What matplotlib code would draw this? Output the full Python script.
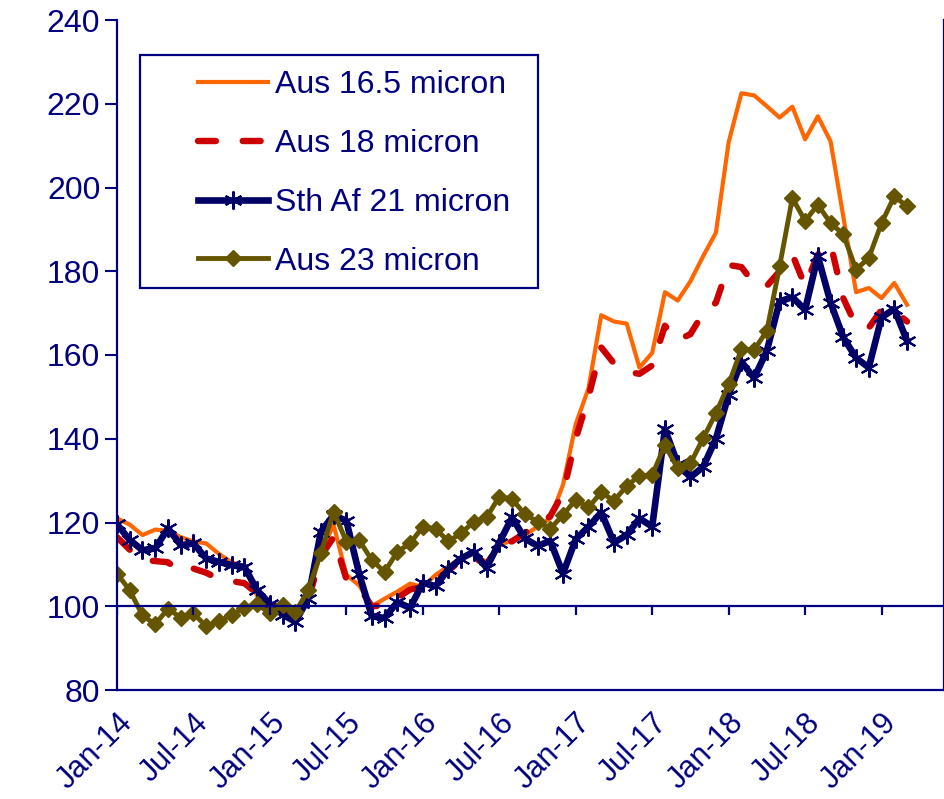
import pandas as pd
import matplotlib
matplotlib.use("Agg")
import matplotlib.pyplot as plt
from matplotlib.patches import Rectangle

# monthly indicator values, Jan-14 .. Mar-19
months = pd.date_range("2014-01-01", periods=63, freq="MS")

aus_165 = [121.0, 119.5, 117.0, 118.3, 118.0, 116.5, 115.5, 115.0, 112.5, 110.5, 109.5, 102.5,
           100.0, 99.5, 98.5, 102.0, 113.0, 119.4, 107.5, 105.0, 100.0, 101.8, 103.5, 105.4,
           104.6, 107.5, 109.5, 111.5, 112.5, 110.5, 114.5, 115.8, 117.0, 119.0, 121.0, 129.0,
           143.5, 152.0, 169.5, 168.0, 167.5, 157.0, 160.5, 175.0, 173.0, 177.6, 183.6, 189.2,
           210.8, 222.5, 222.0, 219.4, 216.7, 219.3, 211.5, 217.0, 211.0, 193.0, 175.0, 176.0,
           173.6, 177.2, 172.0]
aus_18 = [116.5, 113.5, 111.0, 110.8, 110.5, 108.2, 109.0, 108.0, 106.5, 106.0, 105.5, 103.0,
          100.5, 99.5, 98.5, 101.5, 112.0, 116.5, 106.5, 104.5, 100.0, 100.2, 102.0, 104.0,
          104.6, 106.0, 108.5, 111.0, 111.5, 110.0, 114.8, 115.5, 117.5, 119.5, 121.5, 127.0,
          140.0, 150.0, 161.8, 158.0, 156.0, 155.5, 157.5, 167.0, 163.5, 165.0, 170.0, 172.5,
          181.5, 181.0, 177.0, 176.5, 180.0, 184.0, 176.5, 184.0, 186.5, 173.5, 167.0, 166.5,
          170.8, 170.5, 168.0]
sthaf_21 = [119.6, 115.8, 113.4, 113.8, 118.6, 114.6, 115.0, 111.4, 110.6, 109.8, 109.4, 103.8,
            100.6, 98.0, 96.3, 101.8, 117.8, 121.8, 120.4, 107.8, 97.6, 97.2, 101.0, 99.6,
            105.6, 104.8, 108.8, 111.4, 113.0, 109.2, 115.2, 121.2, 116.2, 114.4, 115.6, 107.8,
            116.0, 119.0, 122.4, 115.2, 117.0, 121.0, 119.0, 142.3, 134.0, 130.8, 133.3, 140.0,
            150.5, 158.4, 154.5, 161.0, 172.8, 173.8, 170.8, 183.6, 172.5, 164.2, 159.3, 157.0,
            169.0, 171.0, 163.4]
aus_23 = [107.8, 103.8, 97.8, 95.7, 99.4, 97.3, 98.3, 95.2, 96.5, 97.8, 99.7, 100.5,
          98.3, 100.2, 98.6, 103.8, 112.7, 122.6, 115.4, 115.8, 111.0, 108.2, 113.0, 115.0,
          119.0, 118.5, 115.5, 117.4, 120.2, 121.2, 126.2, 125.6, 122.0, 120.2, 118.5, 121.8,
          125.4, 123.6, 127.2, 125.2, 128.7, 131.2, 131.3, 138.5, 132.9, 134.1, 140.1, 146.1,
          153.0, 161.4, 161.2, 165.8, 181.2, 197.5, 192.0, 195.9, 191.5, 188.8, 180.4, 183.2,
          191.5, 197.9, 195.5]

labels = ["Aus 16.5 micron", "Aus 18 micron", "Sth Af 21 micron", "Aus 23 micron"]
tick_labels = ["Jan-14", "Jul-14", "Jan-15", "Jul-15", "Jan-16", "Jul-16",
               "Jan-17", "Jul-17", "Jan-18", "Jul-18", "Jan-19"]

NAVY = "#000080"
plt.rcParams["font.family"] = ["Liberation Sans", "DejaVu Sans"]

fig = plt.figure(figsize=(9.45, 7.99), dpi=100)
ax = fig.add_axes([117 / 945, 109 / 799, 827 / 945, 670 / 799])

x = range(len(months))
ax.plot(x, aus_165, color="#FF6600", lw=3.0, label=labels[0])
ax.plot(x, aus_18, color="#CC0000", lw=4.6, label=labels[1],
        dashes=(2.8, 4.2), dash_capstyle="round")
ax.plot(x, sthaf_21, color="#000066", lw=4.8, label=labels[2],
        marker=(6, 2, 0), markersize=13, markeredgewidth=1.5)
ax.plot(x, aus_23, color="#665500", lw=3.5, label=labels[3],
        marker="D", markersize=8.5)

ax.set_xlim(0, 64.9)
ax.set_ylim(80, 240)
ax.set_yticks(range(80, 241, 20))

# x axis crosses at 100, labels sit below the plot
tick_pos = [months.get_loc(pd.to_datetime(t, format="%b-%y")) for t in tick_labels]
ax.axhline(100, color=NAVY, lw=1.6)
ax.vlines(tick_pos, 97.9, 100, color=NAVY, lw=1.6)
ax.set_xticks(tick_pos)
ax.set_xticklabels(tick_labels, rotation=45, ha="right", rotation_mode="anchor")
ax.tick_params(axis="x", length=0, pad=13, labelsize=22, labelcolor=NAVY)
ax.tick_params(axis="y", length=9, width=1.5, color=NAVY, pad=3, labelsize=23, labelcolor=NAVY)

for side in ["left", "bottom", "right"]:
    ax.spines[side].set_color(NAVY)
    ax.spines[side].set_linewidth(1.6)
ax.spines["top"].set_visible(False)

# legend box
ax.add_patch(Rectangle((0.028, 0.6), 0.481, 0.348, transform=ax.transAxes,
                       fill=False, edgecolor=NAVY, lw=1.6, zorder=5))
leg = ax.legend(loc="upper left", bbox_to_anchor=(0.098, 0.925), frameon=False,
                fontsize=23, handlelength=2.2, handletextpad=0.2, labelspacing=0.9,
                borderpad=0, borderaxespad=0, numpoints=1)
for t in leg.get_texts():
    t.set_color(NAVY)

fig.savefig("out.png", dpi=100)
